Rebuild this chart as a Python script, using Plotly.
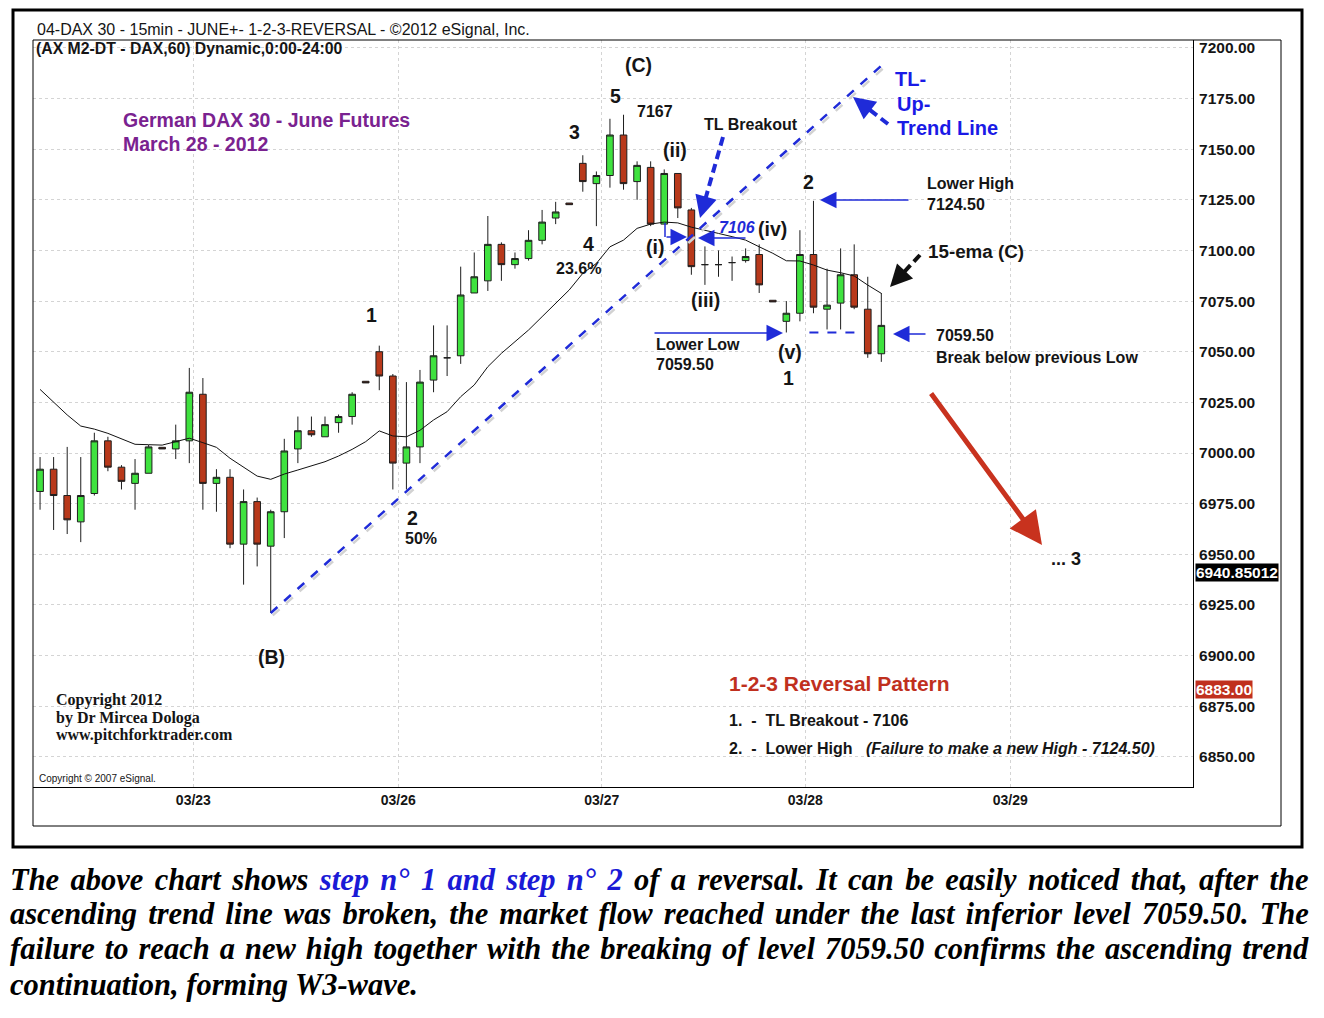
import plotly.graph_objects as go

# DAX June futures, 60-min bars, 22 - 28 March 2012
bar_open = [6981, 6992, 6979, 6966, 6980, 7006, 6993, 6985, 6990, 7002.8,
            7002, 7006, 7029, 6985, 6988, 6955, 6976, 6954, 6971, 7002,
            7011, 7008, 7015, 7018, 7035.4, 7050, 7038, 6995, 7003, 7036,
            7047, 7048, 7079, 7085, 7103, 7093, 7096, 7105, 7116, 7123.4,
            7143, 7133, 7137, 7157, 7134, 7141, 7113, 7138, 7120, 7093,
            7093, 7094, 7095, 7098, 7075.4, 7065, 7069, 7098, 7071, 7074,
            7088, 7071, 7049]
bar_high = [6998, 6998, 7003, 6998, 7010, 7008, 6994, 6997, 7004, 7002.8,
            7014, 7042, 7037, 6992, 6992, 6982, 6978, 6972, 7007, 7018,
            7018, 7018, 7019, 7030, 7035.4, 7053, 7039, 7035, 7041, 7063,
            7063, 7092, 7099, 7117, 7104, 7099, 7110, 7120, 7124, 7123.4,
            7147, 7139, 7165, 7167, 7144, 7144, 7140, 7138, 7121, 7102,
            7100, 7097, 7101, 7103, 7075.4, 7075, 7110, 7124.5, 7091, 7101,
            7103, 7087, 7079]
bar_low = [6972, 6962, 6960, 6956, 6979, 6991, 6982, 6972, 6990, 7002,
           6997, 6995, 6972, 6971, 6953, 6935, 6944, 6921, 6958, 6995,
           7008, 7008, 7010, 7014, 7034.6, 7031, 6982, 6982, 6995, 7030,
           7038, 7044, 7079, 7080, 7085, 7091, 7095, 7103, 7113, 7122.6,
           7129, 7112, 7131, 7130, 7125, 7112, 7113, 7116, 7088, 7083,
           7087, 7085, 7094, 7079, 7074.6, 7059.5, 7065, 7069, 7061, 7061,
           7071, 7047, 7045]
bar_close = [6992, 6979, 6967, 6979, 7006, 6993, 6986, 6990, 7003, 7002,
             7006, 7030, 6985, 6988, 6955, 6976, 6955, 6971, 7001, 7011,
             7009, 7014, 7018, 7029, 7034.6, 7038, 6995, 7003, 7035, 7048,
             7047, 7078, 7087, 7103, 7093, 7096, 7105, 7114, 7119, 7122.6,
             7134, 7137, 7157, 7133, 7142, 7113, 7138, 7121, 7092, 7093,
             7093, 7094, 7097, 7083, 7074.6, 7069, 7098, 7072, 7073, 7088,
             7072, 7049, 7063]
ema15 = [7031.4, 7025.3, 7018.8, 7013.3, 7011.8, 7009.7, 7006.8, 7004.3, 7004.1, 7003.9,
         7005.6, 7007.3, 7005.1, 7002.8, 6997.4, 6993.2, 6988.6, 6987.0, 6989.6, 6991.6,
         6993.6, 6995.7, 6998.5, 7001.8, 7005.6, 7010.9, 7008.4, 7008.0, 7011.2, 7016.3,
         7020.4, 7027.8, 7033.6, 7042.6, 7049.2, 7054.9, 7060.7, 7067.3, 7073.9, 7080.5,
         7088.7, 7093.6, 7101.8, 7105.1, 7110.9, 7113.0, 7114.0, 7113.6, 7111.5, 7110.1,
         7108.4, 7106.8, 7105.1, 7101.8, 7098.6, 7094.9, 7094.8, 7092.8, 7090.3, 7089.0,
         7087.4, 7082.9, 7078.8]
bars = list(range(len(bar_open)))

day_labels = ["03/23", "03/26", "03/27", "03/28", "03/29"]
day_pos = [11.3, 26.4, 41.4, 56.4, 71.5]   # bar index where each session starts

trend_start = (17, 6921)      # up trend line from the (B) low
trend_end = (62.3, 7193)
low_level = 7059.50
low_level_span = (56.7, 60.6)
last_price = 6940.85012
alert_price = 6883.00

W, H = 1324, 1018
SANS = "Liberation Sans"
SERIF = "Liberation Serif"
BLUE = "#1f2bd8"


def px(x):
    return x / W


def py(y):
    return 1 - y / H


fig = go.Figure()
fig.add_trace(go.Candlestick(
    x=bars, open=bar_open, high=bar_high, low=bar_low, close=bar_close,
    increasing=dict(line=dict(color="#1e1e1e", width=1), fillcolor="#3fe23f"),
    decreasing=dict(line=dict(color="#1e1e1e", width=1), fillcolor="#b8391b"),
    hoverinfo="skip",
))
fig.add_trace(go.Scatter(x=bars, y=ema15, mode="lines",
                         line=dict(color="#111111", width=1), hoverinfo="skip"))


def label(x, y, text, size=16, color="#151515", anchor="center", family=SANS,
          weight="bold", style="normal"):
    fig.add_annotation(xref="paper", yref="paper", x=px(x), y=py(y), text=text,
                       showarrow=False, xanchor=anchor, yanchor="middle",
                       font=dict(family=family, size=size, color=color,
                                 weight=weight, style=style))


def arrow(x0, y0, x1, y1, color=BLUE, width=1.5, size=2.2):
    fig.add_annotation(xref="paper", yref="paper", x=px(x1), y=py(y1),
                       ax=x0 - x1, ay=y0 - y1, axref="pixel", ayref="pixel",
                       text="", showarrow=True, arrowhead=2, arrowsize=size,
                       arrowwidth=width, arrowcolor=color)


def dashed_arrow(x0, y0, x1, y1, color=BLUE, width=4):
    # dashed shaft + short solid piece carrying the head
    mx, my = x0 + (x1 - x0) * 0.78, y0 + (y1 - y0) * 0.78
    fig.add_shape(type="line", xref="paper", yref="paper",
                  x0=px(x0), y0=py(y0), x1=px(mx), y1=py(my),
                  line=dict(color=color, width=width, dash="9px,5px"))
    arrow(mx, my, x1, y1, color=color, width=width, size=1.1)


# frames
fig.add_shape(type="rect", xref="paper", yref="paper", x0=px(13), y0=py(10),
              x1=px(1302), y1=py(847), line=dict(color="black", width=3))
fig.add_shape(type="rect", xref="paper", yref="paper", x0=px(33), y0=py(40),
              x1=px(1281), y1=py(826), line=dict(color="black", width=1))

# trend line (with its soft grey shadow) and 7059.50 level
fig.add_shape(type="line", xref="x", yref="y", x0=trend_start[0] + 0.15, y0=trend_start[1] - 1.2,
              x1=trend_end[0] + 0.15, y1=trend_end[1] - 1.2,
              line=dict(color="#d2d2d2", width=2.5, dash="dash"))
fig.add_shape(type="line", xref="x", yref="y", x0=trend_start[0], y0=trend_start[1],
              x1=trend_end[0], y1=trend_end[1], line=dict(color=BLUE, width=2.5, dash="dash"))
fig.add_shape(type="line", xref="x", yref="y", x0=low_level_span[0], y0=low_level,
              x1=low_level_span[1], y1=low_level, line=dict(color=BLUE, width=2, dash="dash"))

# header
label(35, 30, "04-DAX 30 - 15min - JUNE+- 1-2-3-REVERSAL - ©2012 eSignal, Inc.",
      size=16, anchor="left", weight="normal")
label(34, 49, "(AX M2-DT - DAX,60) Dynamic,0:00-24:00", size=15.8, anchor="left")
label(121, 120, "German DAX 30 - June Futures", size=19.5, color="#7a2290", anchor="left")
label(121, 144, "March 28 - 2012", size=19.5, color="#7a2290", anchor="left")

# wave counts
for x, y, t in [(638, 65, "(C)"), (615, 96, "5"), (574, 132, "3"), (588, 244, "4"),
                (371, 315, "1"), (412, 518, "2"), (808, 182, "2"), (789, 378, "1"),
                (675, 150, "(ii)"), (655, 247, "(i)"), (705, 300, "(iii)"),
                (772, 229, "(iv)"), (790, 352, "(v)"), (271, 657, "(B)")]:
    label(x, y, t, size=19.5)
label(655, 111, "7167")
label(751, 125, "TL Breakout")
label(578, 268, "23.6%")
label(421, 538, "50%")
label(737, 227, "7106", color=BLUE, style="italic")
label(1066, 559, "... 3", size=18)
label(654, 344, "Lower Low", anchor="left")
label(654, 365, "7059.50", anchor="left")
label(925, 183, "Lower High", anchor="left")
label(925, 204, "7124.50", anchor="left")
label(926, 252, "15-ema (C)", size=18.8, anchor="left")
label(934, 336, "7059.50", anchor="left")
label(934, 357, "Break below previous Low", anchor="left")
label(893, 79, "TL-", size=20, color="#1a1ae6", anchor="left")
label(895, 104, "Up-", size=20, color="#1a1ae6", anchor="left")
label(895, 128, "Trend Line", size=20, color="#1a1ae6", anchor="left")

label(727, 683, "1-2-3 Reversal Pattern", size=21, color="#c0301e", anchor="left")
label(727, 720, "1.  -  TL Breakout - 7106", anchor="left")
label(727, 748, "2.  -  Lower High   <i>(Failure to make a new High - 7124.50)</i>", anchor="left")

label(54, 700, "Copyright 2012", size=16, family=SERIF, anchor="left")
label(54, 718, "by Dr Mircea Dologa", size=16, family=SERIF, anchor="left")
label(54, 735, "www.pitchforktrader.com", size=16, family=SERIF, anchor="left")
label(37, 778, "Copyright © 2007 eSignal.", size=10, anchor="left", weight="normal")

# arrows
arrow(653, 333, 783, 333)
arrow(910, 200, 820, 200)
arrow(927, 334, 893, 334)
arrow(747, 238, 698, 238)
fig.add_shape(type="line", xref="paper", yref="paper", x0=px(665), y0=py(223),
              x1=px(665), y1=py(237), line=dict(color=BLUE, width=1.5))
arrow(665, 237, 687, 237)
dashed_arrow(723, 137, 700, 218)
dashed_arrow(888, 124, 853, 97)
dashed_arrow(920, 255, 890, 287, color="#111111")
arrow(930, 392, 1042, 545, color="#c8321e", width=5, size=1.3)

# price labels on the axis
fig.add_annotation(xref="paper", yref="y", x=px(1195), y=last_price, xanchor="left",
                   text=f"{last_price:.5f}", showarrow=False, bgcolor="black", borderpad=0,
                   font=dict(family=SANS, size=15.5, color="white", weight="bold"))
fig.add_annotation(xref="paper", yref="y", x=px(1195), y=alert_price, xanchor="left",
                   text=f"{alert_price:.2f}", showarrow=False, bgcolor="#c0301e", borderpad=0,
                   font=dict(family=SANS, size=15.5, color="white", weight="bold"))

# caption under the chart (first three lines justified)
caption = [
    ("The above chart shows <span style='color:#1a1ad6'>step n° 1 and step n° 2</span> of a reversal. It can be easily noticed that, after the", 3.75),
    ("ascending trend line was broken, the market flow reached under the last inferior level 7059.50. The", 3.45),
    ("failure to reach a new high together with the breaking of level 7059.50 confirms the ascending trend", 2.4),
    ("continuation, forming W3-wave.", 0),
]
for (line, gap), y in zip(caption, [880, 914, 949, 985]):
    label(8, y, f"<span style='word-spacing:{gap}px'>{line}</span>", size=30.5,
          family=SERIF, color="black", anchor="left", style="italic")

fig.update_layout(
    width=W, height=H, margin=dict(l=0, r=0, t=0, b=0),
    paper_bgcolor="white", plot_bgcolor="white", showlegend=False,
    xaxis=dict(domain=[px(33), px(1193)], range=[-0.52, 84.97],
               rangeslider=dict(visible=False), tickvals=day_pos, ticktext=day_labels,
               showgrid=True, gridcolor="#d4d4d4", griddash="dot", zeroline=False,
               showline=True, linecolor="black", linewidth=1, ticks="",
               tickfont=dict(family=SANS, size=14, color="#151515", weight="bold")),
    yaxis=dict(domain=[py(787), py(40)], range=[6835.1, 7203.9], side="right",
               dtick=25, tick0=6850, tickformat=".2f", showgrid=True,
               gridcolor="#d4d4d4", griddash="dot", zeroline=False,
               showline=True, linecolor="black", linewidth=1, ticks="",
               ticklabelstandoff=2,
               tickfont=dict(family=SANS, size=15.5, color="#151515", weight="bold")),
)

fig.write_html("out.html", config={"displayModeBar": False},
               post_script="document.body.style.margin='0';")
